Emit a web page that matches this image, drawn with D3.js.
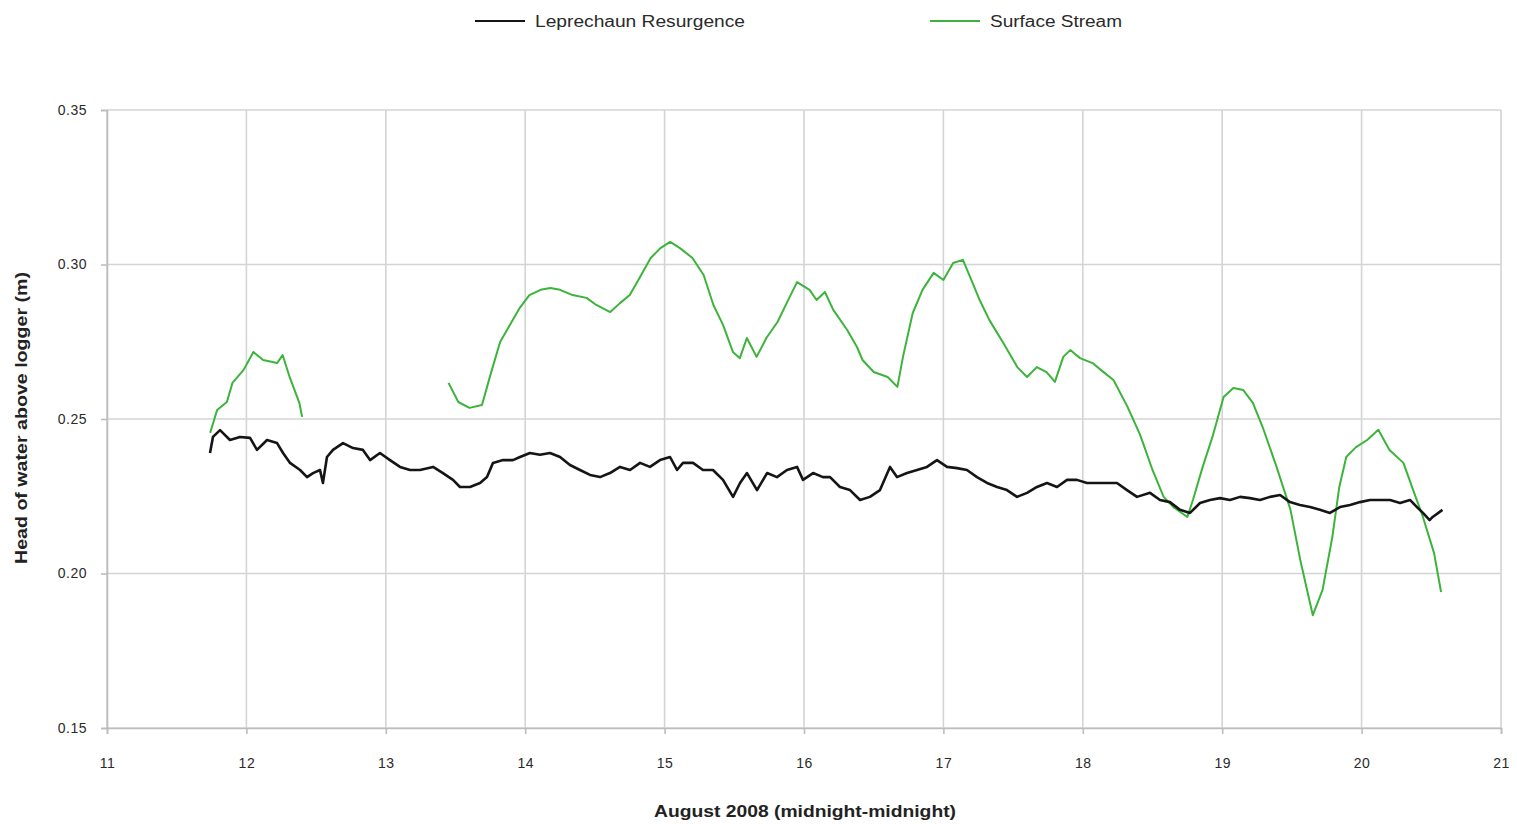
<!DOCTYPE html>
<html><head><meta charset="utf-8">
<script src="https://cdn.jsdelivr.net/npm/d3@7"></script>
<style>
html,body{margin:0;padding:0;background:#fff;}
svg{display:block;font-family:"Liberation Sans Narrow","Liberation Sans",Arial,sans-serif;}
</style></head>
<body>
<svg id="chart" width="1517" height="824"></svg>
<script>
// ---- data ----
const seriesNames = ["Leprechaun Resurgence", "Surface Stream"];
const xTicks = [11,12,13,14,15,16,17,18,19,20,21];
const yTicks = [0.15,0.20,0.25,0.30,0.35];

const blackDays = [11.739,11.760,11.811,11.882,11.954,12.026,12.076,12.148,12.220,12.263,12.313,12.385,12.435,12.478,12.528,12.549,12.578,12.621,12.693,12.765,12.836,12.887,12.958,13.030,13.102,13.174,13.245,13.339,13.410,13.482,13.532,13.604,13.676,13.726,13.769,13.841,13.912,13.963,14.034,14.106,14.178,14.250,14.321,14.393,14.465,14.537,14.608,14.680,14.752,14.824,14.895,14.967,15.039,15.089,15.132,15.204,15.275,15.347,15.419,15.491,15.541,15.591,15.663,15.735,15.806,15.878,15.950,15.993,16.065,16.136,16.187,16.258,16.330,16.402,16.473,16.545,16.617,16.667,16.739,16.811,16.882,16.954,17.026,17.098,17.169,17.241,17.313,17.385,17.456,17.528,17.600,17.671,17.743,17.815,17.887,17.958,18.030,18.102,18.174,18.245,18.317,18.389,18.482,18.554,18.625,18.697,18.769,18.841,18.912,18.984,19.056,19.128,19.199,19.271,19.343,19.415,19.486,19.558,19.630,19.701,19.773,19.845,19.917,19.989,20.060,20.132,20.204,20.276,20.347,20.397,20.440,20.488,20.510,20.580];
const blackHead = [0.2390,0.2442,0.2464,0.2432,0.2442,0.2439,0.2400,0.2432,0.2422,0.2390,0.2358,0.2335,0.2312,0.2325,0.2335,0.2293,0.2377,0.2400,0.2422,0.2406,0.2400,0.2367,0.2390,0.2367,0.2345,0.2335,0.2335,0.2345,0.2325,0.2303,0.2280,0.2280,0.2293,0.2312,0.2358,0.2367,0.2367,0.2377,0.2390,0.2384,0.2390,0.2377,0.2351,0.2335,0.2319,0.2312,0.2325,0.2345,0.2335,0.2358,0.2345,0.2367,0.2377,0.2335,0.2358,0.2358,0.2335,0.2335,0.2303,0.2248,0.2293,0.2325,0.2270,0.2325,0.2312,0.2335,0.2345,0.2303,0.2325,0.2312,0.2312,0.2280,0.2270,0.2238,0.2248,0.2270,0.2345,0.2312,0.2325,0.2335,0.2345,0.2367,0.2345,0.2341,0.2335,0.2312,0.2293,0.2280,0.2270,0.2248,0.2261,0.2280,0.2293,0.2280,0.2303,0.2303,0.2293,0.2293,0.2293,0.2293,0.2270,0.2248,0.2261,0.2238,0.2231,0.2206,0.2196,0.2228,0.2238,0.2244,0.2238,0.2248,0.2244,0.2238,0.2248,0.2254,0.2231,0.2222,0.2215,0.2206,0.2196,0.2215,0.2222,0.2231,0.2238,0.2238,0.2238,0.2228,0.2238,0.2215,0.2196,0.2173,0.2183,0.2206];

const greenDays = [11.74,11.79,11.86,11.90,11.98,12.05,12.12,12.22,12.26,12.31,12.38,12.40,null,
13.45,13.52,13.60,13.69,13.75,13.82,13.89,13.96,14.03,14.11,14.18,14.25,14.34,14.44,14.51,14.61,14.68,14.75,14.82,14.90,14.97,15.04,15.11,15.20,15.28,15.35,15.42,15.49,15.54,15.59,15.66,15.73,15.81,15.88,15.95,16.04,16.09,16.15,16.21,16.31,16.38,16.42,16.50,16.60,16.67,16.71,16.78,16.85,16.93,17.00,17.07,17.14,17.21,17.26,17.33,17.43,17.53,17.60,17.67,17.74,17.80,17.86,17.91,17.98,18.07,18.14,18.22,18.32,18.41,18.50,18.58,18.65,18.75,18.79,18.86,18.93,19.01,19.08,19.15,19.22,19.29,19.39,19.49,19.56,19.65,19.72,19.79,19.84,19.89,19.96,20.04,20.12,20.20,20.30,20.37,20.44,20.52,20.57];
const greenHead = [0.2455,0.2529,0.2555,0.2617,0.2659,0.2717,0.2691,0.2681,0.2707,0.2636,0.2552,0.2507,null,
0.2617,0.2555,0.2536,0.2545,0.2642,0.2749,0.2804,0.2859,0.2901,0.2918,0.2924,0.2918,0.2901,0.2892,0.2869,0.2846,0.2875,0.2901,0.2956,0.3021,0.3053,0.3073,0.3053,0.3021,0.2966,0.2869,0.2804,0.2717,0.2697,0.2762,0.2701,0.2762,0.2814,0.2879,0.2943,0.2918,0.2885,0.2911,0.2853,0.2788,0.2733,0.2691,0.2652,0.2636,0.2604,0.2701,0.2843,0.2918,0.2973,0.2950,0.3005,0.3015,0.2940,0.2885,0.2820,0.2746,0.2668,0.2636,0.2668,0.2652,0.2620,0.2701,0.2723,0.2697,0.2681,0.2655,0.2626,0.2540,0.2450,0.2335,0.2248,0.2215,0.2183,0.2238,0.2345,0.2442,0.2571,0.2600,0.2594,0.2552,0.2474,0.2345,0.2206,0.2044,0.1865,0.1947,0.2118,0.2280,0.2377,0.2409,0.2432,0.2465,0.2400,0.2358,0.2270,0.2183,0.2066,0.1940];

// ---- chart ----
const svg = d3.select("#chart");
const m = {left:107, right:1501, top:110, bottom:728};
const x = d3.scaleLinear().domain([11,21]).range([m.left, m.right]);
const y = d3.scaleLinear().domain([0.15,0.35]).range([m.bottom, m.top]);
const gridColor = "#d4d4d4";
const textColor = "#2a2a2a";

// grid
svg.append("g").selectAll("line").data(yTicks).join("line")
  .attr("x1", m.left).attr("x2", m.right)
  .attr("y1", d=>y(d)).attr("y2", d=>y(d))
  .attr("stroke", gridColor).attr("stroke-width", 1.6);
svg.append("g").selectAll("line").data(xTicks).join("line")
  .attr("x1", d=>x(d)).attr("x2", d=>x(d))
  .attr("y1", m.top).attr("y2", m.bottom)
  .attr("stroke", gridColor).attr("stroke-width", 1.6);

// axes
const yAxis = svg.append("g").attr("transform", `translate(${m.left},0)`)
  .call(d3.axisLeft(y).tickValues(yTicks).tickFormat(d3.format(".2f")).tickSize(6).tickPadding(14));
const xAxis = svg.append("g").attr("transform", `translate(0,${m.bottom})`)
  .call(d3.axisBottom(x).tickValues(xTicks).tickFormat(d3.format("d")).tickSize(6).tickPadding(24));
[yAxis, xAxis].forEach(a => {
  a.select(".domain").attr("stroke", "#bdbdbd").attr("stroke-width", 1.6);
  a.selectAll(".tick line").attr("stroke", "#bdbdbd").attr("stroke-width", 1.6);
  a.selectAll(".tick text").attr("fill", textColor).attr("font-size", 14)
    .attr("font-family", "'Liberation Sans Narrow','Liberation Sans',sans-serif")
    .style("letter-spacing", "0.5px");
});

// lines
const blackData = blackDays.map((d,i)=>({d, v:blackHead[i]}));
const greenData = greenDays.map((d,i)=>({d, v:greenHead[i]}));
const line = d3.line().defined(p=>p.d!==null && p.v!==null).x(p=>x(p.d)).y(p=>y(p.v));
svg.append("path").datum(greenData).attr("d", line)
  .attr("fill","none").attr("stroke","#3cb43c").attr("stroke-width",2).attr("stroke-linejoin","round");
svg.append("path").datum(blackData).attr("d", line)
  .attr("fill","none").attr("stroke","#151515").attr("stroke-width",2.6).attr("stroke-linejoin","round");

// axis titles
svg.append("text").attr("x", 805).attr("y", 817).attr("text-anchor","middle")
  .attr("font-size", 16).attr("font-weight","bold").attr("fill", "#222")
  .attr("textLength", 302).attr("lengthAdjust","spacingAndGlyphs")
  .text("August 2008 (midnight-midnight)");
svg.append("text").attr("transform","translate(27,418) rotate(-90)").attr("text-anchor","middle")
  .attr("font-size", 16).attr("font-weight","bold").attr("fill", "#222")
  .attr("textLength", 292).attr("lengthAdjust","spacingAndGlyphs")
  .text("Head of water above logger (m)");

// legend
const legend = [
  {name: seriesNames[0], color:"#151515", x0:475},
  {name: seriesNames[1], color:"#3cb43c", x0:930}
];
const lg = svg.append("g").selectAll("g").data(legend).join("g")
  .attr("transform", d=>`translate(${d.x0},21)`);
lg.append("line").attr("x1",0).attr("x2",50).attr("stroke",d=>d.color).attr("stroke-width",2);
lg.append("text").attr("x",60).attr("dy","0.35em").attr("font-size",16).attr("fill",textColor)
  .attr("textLength", (d,i)=> i===0 ? 210 : 132).attr("lengthAdjust","spacingAndGlyphs")
  .text(d=>d.name);
</script>
</body></html>
